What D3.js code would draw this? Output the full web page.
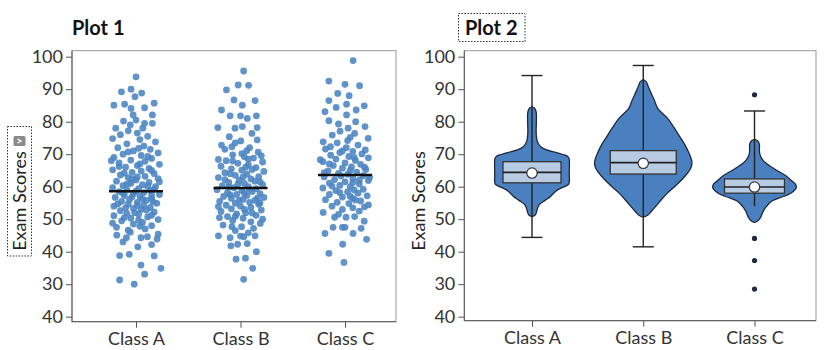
<!DOCTYPE html>
<html><head><meta charset="utf-8">
<script src="https://cdn.jsdelivr.net/npm/d3@7"></script>
<style>
body{margin:0;background:#fff;}
text{font-family:Lato,"Open Sans",sans-serif;}
</style></head>
<body><svg id="c" width="834" height="350"></svg>
<script>
const classes = ["Class A","Class B","Class C"];
const yTickValues = [100,90,80,70,60,50,40,30,20];
const yTickLabels = ["100","90","80","70","60","50","40","30","40"];
const yLabel = "Exam Scores";
const titles = ["Plot 1","Plot 2"];

// Plot 1: strip plot [score, jitter(-1..1)]
const scoresA = [[93.8,0.0],[90.0,-0.19],[89.2,-0.56],[88.8,0.22],[87.7,-0.04],[85.1,-0.85],[85.4,-0.44],[84.1,-0.19],[84.3,0.33],[85.7,0.7],[82.1,-0.11],[82.1,0.63],[80.2,-0.48],[80.5,0.0],[78.0,-0.78],[79.0,-0.22],[79.5,0.33],[79.5,0.63],[78.0,0.26],[77.2,-0.3],[76.5,0.05],[76.0,-0.6],[75.5,0.45],[74.8,-0.9],[74.5,0.15],[73.8,0.75],[73.2,-0.35],[72.5,0.3],[72.0,-0.7],[71.5,0.55],[71.0,-0.1],[70.4,0.85],[70.0,-0.5],[69.6,0.2],[69.0,-0.85],[68.7,0.6],[68.2,-0.2],[67.8,0.35],[67.3,-0.65],[66.9,0.9],[66.5,0.05],[66.0,-0.4],[65.6,0.5],[65.2,-0.9],[64.8,0.2],[64.4,-0.15],[64.0,0.7],[63.6,-0.6],[63.2,0.35],[62.8,-0.3],[62.5,0.85],[62.1,0.0],[61.7,-0.75],[61.3,0.5],[61.0,-0.2],[60.6,0.25],[60.3,-0.5],[60.0,0.75],[59.7,-0.9],[59.4,0.1],[59.0,-0.35],[58.8,0.55],[58.5,-0.65],[58.2,0.3],[57.9,-0.1],[57.6,0.9],[57.3,-0.45],[57.0,0.15],[56.7,-0.8],[56.4,0.6],[56.1,-0.25],[55.8,0.4],[55.5,-0.55],[55.2,0.05],[54.9,0.8],[54.6,-0.3],[54.3,0.3],[54.0,-0.85],[53.6,0.55],[53.3,-0.1],[53.0,0.2],[52.6,-0.6],[52.2,0.7],[51.8,-0.35],[51.5,0.1],[51.1,-0.85],[50.7,0.45],[50.3,-0.2],[49.9,0.85],[49.5,-0.55],[49.0,0.25],[48.5,-0.1],[48.0,0.6],[47.5,-0.75],[47.0,0.35],[46.6,-0.3],[46.0,-0.22],[45.4,0.85],[45.1,-0.74],[44.6,0.44],[44.3,-0.37],[44.3,0.19],[43.9,0.81],[43.0,-0.5],[42.2,0.6],[41.5,0.07],[39.2,-0.26],[38.8,-0.63],[38.7,0.7],[35.9,0.19],[34.9,0.96],[33.1,0.33],[31.3,-0.63],[30.0,-0.07],
[71.8,0.1],[70.7,-0.3],[69.3,0.45],[68.0,-0.95],[67.0,0.15],[66.2,-0.65],[65.0,0.6],[64.2,-0.45],[63.0,0.05],[62.3,-0.15],[61.5,0.9],[60.8,-0.35],[60.1,0.45],[59.2,0.7],[58.6,0.0],[58.0,-0.5],[57.4,0.6],[56.9,-0.15],[56.2,0.25],[55.4,0.65],[54.7,-0.7],[54.2,0.05],[53.5,-0.4],[52.8,0.4],[52.0,-0.05],[51.2,0.6],[50.5,-0.45],[49.7,0.1],[48.8,-0.9],[47.8,0.15]];
const scoresB = [[95.6,0.12],[91.3,-0.09],[91.2,0.31],[89.8,-0.54],[86.7,-0.25],[85.1,0.07],[86.5,0.56],[83.6,-0.73],[81.8,-0.4],[81.8,0.0],[81.0,0.26],[81.8,0.61],[78.2,-0.87],[78.0,-0.21],[78.5,0.07],[78.2,0.64],[76.4,0.44],[75.4,-0.43],[74.1,0.01],[74.4,0.64],[72.8,-0.73],[72.3,-0.33],[71.1,0.24],[70.6,0.68],[68.4,-0.85],
[69.8,-0.3],[69.2,0.15],[68.8,0.5],[68.0,-0.55],[67.6,0.85],[67.2,-0.1],[66.8,0.3],[66.3,-0.75],[65.9,0.6],[65.5,-0.35],[65.1,0.05],[64.7,0.9],[64.3,-0.6],[63.9,0.25],[63.5,-0.2],[63.1,0.7],[62.8,-0.85],[62.4,0.4],[62.0,-0.05],[61.7,0.55],[61.3,-0.45],[61.0,0.15],[60.6,0.85],[60.3,-0.7],[60.0,0.3],[59.7,-0.25],[59.4,0.6],[59.1,-0.9],[58.8,0.05],[58.5,0.45],[58.2,-0.5],[57.9,0.75],[57.6,-0.15],[57.3,0.25],[57.0,-0.65],[56.7,0.9],[56.4,-0.35],[56.1,0.1],[55.8,0.55],[55.5,-0.8],[55.2,0.35],[54.9,-0.2],[54.6,0.7],[54.3,-0.55],[54.0,0.0],[53.6,0.4],[53.2,-0.35],[52.8,0.8],[52.4,-0.75],[52.0,0.2],[51.6,-0.15],[51.2,0.6],[50.8,-0.5],[50.5,-0.81],[50.3,0.1],[50.0,0.85],[49.6,-0.3],[49.2,0.4],[48.7,0.76],[48.2,-0.67],[47.7,-0.33],[47.7,0.04],[47.2,0.5],[46.5,-0.2],[45.8,0.3],[44.9,-0.85],[44.3,-0.4],[44.8,0.0],[44.6,0.13],[44.9,0.56],[42.3,-0.11],[41.8,-0.37],[42.5,0.26],[40.0,0.61],[38.0,0.19],[37.7,-0.17],[34.9,0.47],[31.5,0.12],
[73.5,-0.2],[72.0,0.35],[71.5,-0.6],[70.2,0.05],[69.5,0.8],[68.5,0.3],[67.9,-0.3],[66.0,0.2],[65.3,0.45],[64.0,-0.4],[63.0,0.1],[62.2,-0.6],[61.5,0.75],[60.8,-0.1],[59.9,-0.45],[59.2,0.35],[58.0,0.15],[57.5,-0.4],[56.5,0.65],[55.9,-0.05],[55.0,0.75],[53.9,-0.85],[53.0,0.15],[51.9,0.45],[50.9,-0.2]];
const scoresC = [[98.8,0.31],[92.5,-0.62],[91.5,0.0],[91.1,0.56],[88.7,-0.28],[88.0,0.16],[86.5,-0.62],[84.4,-0.34],[85.4,0.06],[84.9,0.74],[83.1,-0.77],[82.1,0.06],[83.6,0.43],[80.3,-0.62],[79.3,-0.25],[80.0,0.41],[78.5,0.77],[77.1,-0.19],[78.0,0.12],[73.8,-0.84],[75.9,-0.49],[76.4,0.37],[74.9,0.89],[72.3,-0.56],[71.3,0.78],
[74.2,0.1],[73.5,-0.3],[72.8,0.5],[72.0,0.05],[71.6,-0.75],[70.9,0.3],[70.5,-0.2],[70.1,0.65],[69.7,-0.55],[69.3,0.15],[68.9,0.9],[68.5,-0.35],[68.1,0.4],[67.7,-0.85],[67.3,0.0],[66.9,0.6],[66.5,-0.45],[66.1,0.25],[65.7,-0.1],[65.3,0.8],[64.9,-0.65],[64.5,0.45],[64.1,-0.25],[63.8,0.1],[63.4,0.7],[63.0,-0.8],[62.6,0.3],[62.2,-0.4],[61.9,0.9],[61.5,0.0],[61.1,-0.6],[60.8,0.55],[60.4,-0.2],[60.0,0.2],[59.6,-0.85],[59.2,0.7],[58.8,-0.35],[58.4,0.1],[58.0,0.5],[57.6,-0.6],[57.2,0.85],[56.8,-0.1],[56.4,0.3],[56.0,-0.75],[55.6,0.6],[55.2,-0.3],[54.8,0.15],[54.4,0.9],[54.0,-0.5],[53.5,0.3],[53.0,-0.1],[52.1,-0.84],[50.6,-0.4],[50.6,0.04],[50.8,0.37],[49.4,0.74],[47.5,-0.46],[47.5,-0.1],[47.5,0.0],[47.2,0.62],[45.6,-0.77],[45.6,0.31],[43.8,0.83],[42.3,-0.09],[39.5,-0.62],[36.7,-0.04],
[71.0,-0.1],[69.0,0.35],[67.0,-0.6],[66.0,0.75],[65.0,0.2],[64.3,-0.8],[63.3,-0.15],[62.0,0.55],[61.3,0.3],[60.2,-0.5],[59.0,0.35],[58.2,-0.2],[57.0,0.2],[55.9,0.4],[52.5,0.55],[51.5,-0.25],[53.8,0.75],[62.9,0.95],[68.3,-0.95],[75.2,0.2]];
const stripMeans = [58.6, 59.6, 63.6];

// Plot 2: violin profiles [score, relative half-width]
const violinA = [[84.6,0],[84.2,0.05],[83,0.085],[80,0.09],[77,0.085],[75,0.095],[73.5,0.12],[72.3,0.18],[71.3,0.3],[70.4,0.52],[69.7,0.68],[69.1,0.745],[68.4,0.765],[65,0.765],[61.5,0.765],[60.7,0.75],[60.1,0.68],[59.4,0.57],[58.4,0.47],[57,0.38],[55.8,0.27],[54.5,0.15],[53.2,0.11],[52,0.09],[51.2,0.06],[50.8,0]];
const violinB = [[93,0],[92.3,0.06],[90.5,0.11],[88.5,0.17],[86.5,0.23],[84,0.3],[81,0.5],[78,0.64],[75.4,0.75],[72.5,0.87],[70.3,0.94],[67.5,1.0],[65.5,0.97],[63.3,0.86],[60.5,0.68],[58.1,0.5],[56,0.37],[54,0.26],[52.3,0.16],[51.2,0.09],[50.6,0]];
const violinC = [[74.6,0],[74,0.07],[73,0.1],[71,0.1],[69.5,0.12],[68,0.18],[66.5,0.3],[65,0.46],[63.5,0.63],[62,0.75],[60.8,0.84],[59.8,0.86],[58.6,0.8],[57.5,0.68],[56.5,0.5],[55.5,0.35],[54,0.25],[52.5,0.18],[51,0.14],[50,0.1],[49.3,0.05],[49,0]];
const boxQ1 = [61.2, 63.9, 58.0];
const boxMedian = [64.4, 67.4, 59.9];
const boxQ3 = [67.7, 71.1, 62.4];
const whiskerLow = [44.4, 41.5, 54.0];
const whiskerHigh = [94.2, 97.3, 83.3];
const lowCapShown = [true, true, false];
const boxMean = [64.2, 67.2, 59.9];
const outliersC = [88.3, 44.1, 37.3, 28.5];

const svg = d3.select("#c");
const blue = "#4a84c2";
const tickColor = "#333";
const fs = "18px";

const y = d3.scaleLinear().domain([20,100]).range([316.7,56.7]);

function frame(x0, x1, y0, y1){
  svg.append("rect").attr("x",x0).attr("y",y0).attr("width",x1-x0).attr("height",y1-y0)
    .attr("fill","none").attr("stroke","#9a9a9a").attr("stroke-width",1);
  svg.append("line").attr("x1",x0).attr("x2",x0).attr("y1",y0).attr("y2",y1).attr("stroke","#555");
  svg.append("line").attr("x1",x0).attr("x2",x1).attr("y1",y1).attr("y2",y1).attr("stroke","#555");
}
function yAxis(xPos){
  const g = svg.append("g").attr("transform",`translate(${xPos},0)`)
    .call(d3.axisLeft(y).tickValues(yTickValues).tickFormat((d,i)=>yTickLabels[i]).tickSize(6).tickPadding(3));
  g.select(".domain").remove();
  g.selectAll("line").attr("stroke","#555");
  g.selectAll("text").attr("font-size",fs).attr("fill",tickColor).attr("font-family","Lato");
}
function xAxis(x, yPos){
  const g = svg.append("g").attr("transform",`translate(0,${yPos})`)
    .call(d3.axisBottom(x).tickSize(6).tickPadding(5));
  g.select(".domain").remove();
  g.selectAll("line").attr("stroke","#555");
  g.selectAll("text").attr("font-size",fs).attr("fill",tickColor).attr("font-family","Lato");
}

// ---------- Plot 1 ----------
const p1 = {l:72, r:396, t:50.7, b:321.7};
frame(p1.l,p1.r,p1.t,p1.b);
const x1 = d3.scalePoint().domain(classes).range([136,345]);
const jitterW = 26;
const strips = [scoresA, scoresB, scoresC];
strips.forEach((arr,i)=>{
  svg.append("g").selectAll("circle").data(arr).join("circle")
    .attr("cx",d=>x1(classes[i]) + d[1]*jitterW)
    .attr("cy",d=>y(d[0]))
    .attr("r",3.4)
    .attr("fill",blue).attr("fill-opacity",0.88);
});
svg.append("g").selectAll("line").data(stripMeans).join("line")
  .attr("x1",(d,i)=>x1(classes[i])-27).attr("x2",(d,i)=>x1(classes[i])+27)
  .attr("y1",d=>y(d)).attr("y2",d=>y(d))
  .attr("stroke","#111").attr("stroke-width",2.4);
yAxis(p1.l);
xAxis(x1, p1.b);
svg.append("text").attr("x",72).attr("y",35).attr("font-size","20px").attr("font-weight","bold")
  .attr("fill","#111").text(titles[0]);
// y label with dashed box + icon
svg.append("rect").attr("x",7.5).attr("y",126.5).attr("width",24).attr("height",129.5)
  .attr("fill","none").attr("stroke","#333").attr("stroke-dasharray","1.5,1.5").attr("stroke-width",1);
svg.append("rect").attr("x",13.5).attr("y",136).attr("width",12).attr("height",10).attr("rx",1.5)
  .attr("fill","#8a8a8a");
svg.append("path").attr("d","M17.5,143 L19.5,139.5 L21.5,143").attr("fill","none").attr("stroke","#fff").attr("stroke-width",1.4)
  .attr("transform","rotate(90,19.5,141)");
svg.append("text").attr("transform","translate(25.5,201) rotate(-90)").attr("text-anchor","middle")
  .attr("font-size",fs).attr("fill","#222").text(yLabel);

// ---------- Plot 2 ----------
const p2 = {l:464.3, r:816, t:50.7, b:320.7};
frame(p2.l,p2.r,p2.t,p2.b);
const x2 = d3.scalePoint().domain(classes).range([532,754.5]);
const wScale = d3.scaleLinear().domain([0,1]).range([0,48.7]);
const violins = [violinA, violinB, violinC];
violins.forEach((prof,i)=>{
  const cx = x2(classes[i]);
  const area = d3.area().curve(d3.curveCatmullRom.alpha(0.5))
    .y(d=>y(d[0])).x0(d=>cx - wScale(d[1])).x1(d=>cx + wScale(d[1]));
  svg.append("path").datum(prof).attr("d",area)
    .attr("fill","#4a80bf").attr("stroke","#1e2a3c").attr("stroke-width",1.3);
});
const capW = 10.5;
const boxHW = [29, 33, 30];
classes.forEach((c,i)=>{
  const cx = x2(c);
  const g = svg.append("g").attr("stroke","#222").attr("stroke-width",1.4);
  g.append("line").attr("x1",cx).attr("x2",cx).attr("y1",y(whiskerHigh[i])).attr("y2",y(boxQ3[i]));
  g.append("line").attr("x1",cx).attr("x2",cx).attr("y1",y(boxQ1[i])).attr("y2",y(whiskerLow[i]));
  g.append("line").attr("x1",cx-capW).attr("x2",cx+capW).attr("y1",y(whiskerHigh[i])).attr("y2",y(whiskerHigh[i]));
  if (lowCapShown[i]) g.append("line").attr("x1",cx-capW).attr("x2",cx+capW).attr("y1",y(whiskerLow[i])).attr("y2",y(whiskerLow[i]));
  g.append("rect").attr("x",cx-boxHW[i]).attr("width",2*boxHW[i])
    .attr("y",y(boxQ3[i])).attr("height",y(boxQ1[i])-y(boxQ3[i]))
    .attr("fill","#b7cbe3").attr("stroke","#333").attr("stroke-width",1.3);
  g.append("line").attr("x1",cx-boxHW[i]).attr("x2",cx+boxHW[i]).attr("y1",y(boxMedian[i])).attr("y2",y(boxMedian[i]))
    .attr("stroke-width",1.6);
  svg.append("circle").attr("cx",cx).attr("cy",y(boxMean[i])).attr("r",5.2)
    .attr("fill","#fff").attr("stroke","#333").attr("stroke-width",1.2);
});
svg.append("g").selectAll("circle").data(outliersC).join("circle")
  .attr("cx",x2("Class C")).attr("cy",d=>y(d)).attr("r",2.6).attr("fill","#1d2a40");
yAxis(p2.l);
xAxis(x2, p2.b);
svg.append("text").attr("x",465).attr("y",35).attr("font-size","20px").attr("font-weight","bold")
  .attr("fill","#111").text(titles[1]);
svg.append("rect").attr("x",458.5).attr("y",13.5).attr("width",66.5).attr("height",28)
  .attr("fill","none").attr("stroke","#333").attr("stroke-dasharray","1.5,1.5");
svg.append("text").attr("transform","translate(425,201) rotate(-90)").attr("text-anchor","middle")
  .attr("font-size",fs).attr("fill","#222").text(yLabel);
</script></body></html>
